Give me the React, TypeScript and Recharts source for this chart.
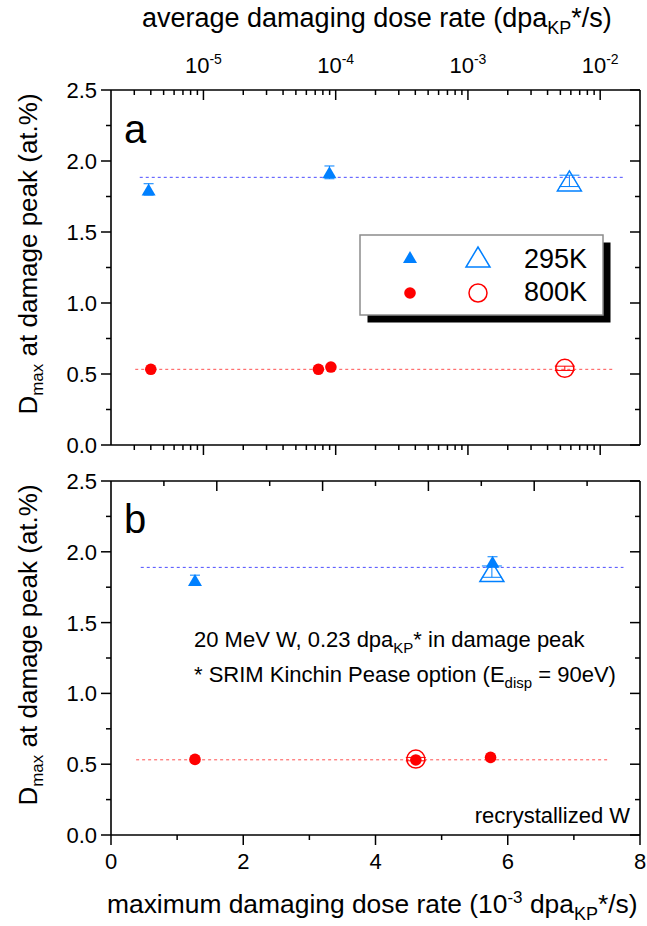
import React from 'react';
import { ScatterChart, Scatter, XAxis, YAxis, ReferenceLine, ErrorBar } from 'recharts';

const FONT = '"Liberation Sans", Arial, Helvetica, sans-serif';
const BLUE = '#0080ff';
const RED = '#ff0000';
const DASH_BLUE = '#4d4dff';
const DASH_RED = '#ff5050';

// ---------- Panel a : average damaging dose rate (dpa_KP*/s), log axis ----------
const a295Filled = [
  { x: 3.85e-6, y: 1.80, err: 0.04 },
  { x: 8.97e-5, y: 1.92, err: 0.045 },
];
const a295Open = [{ x: 5.85e-3, y: 1.86, err: 0.04 }];
const a800Filled = [
  { x: 4.0e-6, y: 0.533 },
  { x: 7.4e-5, y: 0.533 },
  { x: 9.2e-5, y: 0.549 },
];
const a800Open = [{ x: 5.4e-3, y: 0.54, err: 0.015 }];
const aMeanLines = [
  { y: 1.885, x1: 3.3e-6, x2: 1.55e-2, color: DASH_BLUE },
  { y: 0.533, x1: 3.05e-6, x2: 1.26e-2, color: DASH_RED },
];

// ---------- Panel b : maximum damaging dose rate (1e-3 dpa_KP*/s), linear axis ----------
const b295Filled = [
  { x: 1.27, y: 1.80, err: 0.035 },
  { x: 5.77, y: 1.93, err: 0.035 },
];
const b295Open = [{ x: 5.76, y: 1.86, err: 0.04 }];
const b800Filled = [
  { x: 1.27, y: 0.534 },
  { x: 4.61, y: 0.53 },
  { x: 5.74, y: 0.548 },
];
const b800Open = [{ x: 4.61, y: 0.536, err: 0.012 }];
const bMeanLines = [
  { y: 1.89, x1: 0.45, x2: 7.75, color: DASH_BLUE },
  { y: 0.531, x1: 0.38, x2: 7.54, color: DASH_RED },
];

// ---------- ticks ----------
const logDomain = [2e-6, 2e-2];
const logTicks = [
  3e-6, 4e-6, 5e-6, 6e-6, 7e-6, 8e-6, 9e-6,
  1e-5, 2e-5, 3e-5, 4e-5, 5e-5, 6e-5, 7e-5, 8e-5, 9e-5,
  1e-4, 2e-4, 3e-4, 4e-4, 5e-4, 6e-4, 7e-4, 8e-4, 9e-4,
  1e-3, 2e-3, 3e-3, 4e-3, 5e-3, 6e-3, 7e-3, 8e-3, 9e-3,
  1e-2,
];
const yTicks = [0, 0.25, 0.5, 0.75, 1.0, 1.25, 1.5, 1.75, 2.0, 2.25, 2.5];
const xTicksB = [0, 1, 2, 3, 4, 5, 6, 7, 8];
const xTopTicksB = [0.8, 1.6, 2.4, 3.2, 4.0, 4.8, 5.6, 6.4, 7.2];

const AX = { stroke: '#000', strokeWidth: 1.6 };
const TK = 10; // tickSize given to recharts

const isLogMajor = (v: number) => {
  const lg = Math.log10(v);
  return Math.abs(lg - Math.round(lg)) < 1e-6;
};

const TopLogTick = (p: any) => {
  const { x, y, payload } = p;
  const v = payload.value;
  const major = isLogMajor(v);
  const ay = y + TK;
  return (
    <g>
      <line x1={x} x2={x} y1={ay} y2={ay + (major ? 10 : 5)} stroke="#000" strokeWidth={1.5} />
      {major && (
        <text x={x} y={ay - 17} textAnchor="middle" fontSize={22} fontFamily={FONT} fill="#000">
          10<tspan dy={-9} fontSize={14}>{String(Math.round(Math.log10(v)))}</tspan>
        </text>
      )}
    </g>
  );
};

const BottomLogTick = (p: any) => {
  const { x, y, payload } = p;
  const major = isLogMajor(payload.value);
  const ay = y - TK;
  return <line x1={x} x2={x} y1={ay} y2={ay + (major ? 10 : 5)} stroke="#000" strokeWidth={1.5} />;
};

const LeftTick = (p: any) => {
  const { x, y, payload } = p;
  const v = payload.value;
  const major = Math.abs(v * 2 - Math.round(v * 2)) < 1e-6;
  const ax = x + TK;
  return (
    <g>
      <line x1={ax - (major ? 10 : 5)} x2={ax} y1={y} y2={y} stroke="#000" strokeWidth={1.5} />
      {major && (
        <text x={ax - 14} y={y + 8} textAnchor="end" fontSize={22} fontFamily={FONT} fill="#000">
          {v.toFixed(1)}
        </text>
      )}
    </g>
  );
};

const RightTick = (p: any) => {
  const { x, y, payload } = p;
  const v = payload.value;
  const major = Math.abs(v * 2 - Math.round(v * 2)) < 1e-6;
  const ax = x - TK;
  return <line x1={ax - (major ? 10 : 5)} x2={ax} y1={y} y2={y} stroke="#000" strokeWidth={1.5} />;
};

const BottomLinTick = (p: any) => {
  const { x, y, payload } = p;
  const v = payload.value;
  const major = v % 2 === 0;
  const ay = y - TK;
  return (
    <g>
      <line x1={x} x2={x} y1={ay} y2={ay + (major ? 10 : 5)} stroke="#000" strokeWidth={1.5} />
      {major && (
        <text x={x} y={ay + 34} textAnchor="middle" fontSize={22} fontFamily={FONT} fill="#000">
          {String(v)}
        </text>
      )}
    </g>
  );
};

const TopLinTick = (p: any) => {
  const { x, y, payload } = p;
  const major = Math.round(payload.value / 0.8) % 2 === 0;
  const ay = y + TK;
  return <line x1={x} x2={x} y1={ay} y2={ay + (major ? 10 : 5)} stroke="#000" strokeWidth={1.5} />;
};

// ---------- markers ----------
const FilledTriangle = (p: any) => {
  const { cx, cy } = p;
  const w = 14, h = 12;
  return <path d={`M${cx - w / 2},${cy + h / 2}L${cx + w / 2},${cy + h / 2}L${cx},${cy - h / 2}Z`} fill={BLUE} />;
};
const OpenTriangle = (p: any) => {
  const { cx, cy } = p;
  const w = 24, h = 20;
  return (
    <path
      d={`M${cx - w / 2},${cy + h / 2}L${cx + w / 2},${cy + h / 2}L${cx},${cy - h / 2}Z`}
      fill="none"
      stroke={BLUE}
      strokeWidth={1.5}
    />
  );
};
const FilledCircle = (p: any) => <circle cx={p.cx} cy={p.cy} r={5.8} fill={RED} />;
const OpenCircle = (p: any) => <circle cx={p.cx} cy={p.cy} r={9} fill="none" stroke={RED} strokeWidth={1.5} />;

const PanelA = () => (
  <ScatterChart width={647} height={470} margin={{ top: 0, right: 0, bottom: 0, left: 0 }}>
    <XAxis
      xAxisId="top"
      orientation="top"
      type="number"
      dataKey="x"
      scale="log"
      domain={logDomain}
      allowDataOverflow
      ticks={logTicks}
      interval={0}
      height={90}
      tickSize={TK}
      tickMargin={0}
      tickLine={false}
      axisLine={AX}
      tick={<TopLogTick />}
    />
    <XAxis
      xAxisId="bot"
      orientation="bottom"
      type="number"
      dataKey="x"
      scale="log"
      domain={logDomain}
      allowDataOverflow
      ticks={logTicks}
      interval={0}
      height={25}
      tickSize={TK}
      tickMargin={0}
      tickLine={false}
      axisLine={AX}
      tick={<BottomLogTick />}
    />
    <YAxis
      yAxisId="l"
      orientation="left"
      type="number"
      dataKey="y"
      domain={[0, 2.5]}
      allowDataOverflow
      ticks={yTicks}
      interval={0}
      width={111}
      tickSize={TK}
      tickMargin={0}
      tickLine={false}
      axisLine={AX}
      tick={<LeftTick />}
    />
    <YAxis
      yAxisId="r"
      orientation="right"
      type="number"
      dataKey="y"
      domain={[0, 2.5]}
      allowDataOverflow
      ticks={yTicks}
      interval={0}
      width={7}
      tickSize={TK}
      tickMargin={0}
      tickLine={false}
      axisLine={AX}
      tick={<RightTick />}
    />
    {aMeanLines.map((l, i) => (
      <ReferenceLine
        key={i}
        xAxisId="top"
        yAxisId="l"
        segment={[{ x: l.x1, y: l.y }, { x: l.x2, y: l.y }]}
        stroke={l.color}
        strokeWidth={1}
        strokeDasharray="3 3"
        ifOverflow="visible"
      />
    ))}
    <Scatter data={a295Filled} xAxisId="top" yAxisId="l" shape={FilledTriangle} isAnimationActive={false}>
      <ErrorBar dataKey="err" direction="y" width={5} stroke={BLUE} strokeWidth={1} />
    </Scatter>
    <Scatter data={a295Open} xAxisId="top" yAxisId="l" shape={OpenTriangle} isAnimationActive={false}>
      <ErrorBar dataKey="err" direction="y" width={10} stroke={BLUE} strokeWidth={1} />
    </Scatter>
    <Scatter data={a800Filled} xAxisId="top" yAxisId="l" shape={FilledCircle} isAnimationActive={false} />
    <Scatter data={a800Open} xAxisId="top" yAxisId="l" shape={OpenCircle} isAnimationActive={false}>
      <ErrorBar dataKey="err" direction="y" width={10} stroke={RED} strokeWidth={1} />
    </Scatter>
  </ScatterChart>
);

const PanelB = () => (
  <ScatterChart width={647} height={471} margin={{ top: 0, right: 0, bottom: 0, left: 0 }}>
    <XAxis
      xAxisId="top"
      orientation="top"
      type="number"
      dataKey="x"
      domain={[0, 8]}
      allowDataOverflow
      ticks={xTopTicksB}
      interval={0}
      height={26}
      tickSize={TK}
      tickMargin={0}
      tickLine={false}
      axisLine={AX}
      tick={<TopLinTick />}
    />
    <XAxis
      xAxisId="bot"
      orientation="bottom"
      type="number"
      dataKey="x"
      domain={[0, 8]}
      allowDataOverflow
      ticks={xTicksB}
      interval={0}
      height={91}
      tickSize={TK}
      tickMargin={0}
      tickLine={false}
      axisLine={AX}
      tick={<BottomLinTick />}
    />
    <YAxis
      yAxisId="l"
      orientation="left"
      type="number"
      dataKey="y"
      domain={[0, 2.5]}
      allowDataOverflow
      ticks={yTicks}
      interval={0}
      width={111}
      tickSize={TK}
      tickMargin={0}
      tickLine={false}
      axisLine={AX}
      tick={<LeftTick />}
    />
    <YAxis
      yAxisId="r"
      orientation="right"
      type="number"
      dataKey="y"
      domain={[0, 2.5]}
      allowDataOverflow
      ticks={yTicks}
      interval={0}
      width={7}
      tickSize={TK}
      tickMargin={0}
      tickLine={false}
      axisLine={AX}
      tick={<RightTick />}
    />
    {bMeanLines.map((l, i) => (
      <ReferenceLine
        key={i}
        xAxisId="bot"
        yAxisId="l"
        segment={[{ x: l.x1, y: l.y }, { x: l.x2, y: l.y }]}
        stroke={l.color}
        strokeWidth={1}
        strokeDasharray="3 3"
        ifOverflow="visible"
      />
    ))}
    <Scatter data={b295Filled} xAxisId="bot" yAxisId="l" shape={FilledTriangle} isAnimationActive={false}>
      <ErrorBar dataKey="err" direction="y" width={5} stroke={BLUE} strokeWidth={1} />
    </Scatter>
    <Scatter data={b295Open} xAxisId="bot" yAxisId="l" shape={OpenTriangle} isAnimationActive={false}>
      <ErrorBar dataKey="err" direction="y" width={10} stroke={BLUE} strokeWidth={1} />
    </Scatter>
    <Scatter data={b800Filled} xAxisId="bot" yAxisId="l" shape={FilledCircle} isAnimationActive={false} />
    <Scatter data={b800Open} xAxisId="bot" yAxisId="l" shape={OpenCircle} isAnimationActive={false}>
      <ErrorBar dataKey="err" direction="y" width={10} stroke={RED} strokeWidth={1} />
    </Scatter>
  </ScatterChart>
);

const YTitle = ({ cy }: { cy: number }) => (
  <text transform={`translate(37,${cy}) rotate(-90)`} textAnchor="middle" fontSize={26} fontFamily={FONT} fill="#000">
    D<tspan dy={6} fontSize={17}>max</tspan>
    <tspan dy={-6}> at damage peak (at.%)</tspan>
  </text>
);

const Overlay = () => (
  <svg width={647} height={926} style={{ position: 'absolute', left: 0, top: 0, pointerEvents: 'none' }}>
    {/* top axis title */}
    <text x={142} y={27} fontSize={27} fontFamily={FONT} fill="#000">
      average damaging dose rate (dpa<tspan dy={7} fontSize={18}>KP</tspan>
      <tspan dy={-7}>*/s)</tspan>
    </text>
    {/* bottom axis title */}
    <text x={107} y={913} fontSize={26.4} fontFamily={FONT} fill="#000">
      maximum damaging dose rate (10<tspan dy={-10} fontSize={17}>-3</tspan>
      <tspan dy={10}> dpa</tspan>
      <tspan dy={7} fontSize={18}>KP</tspan>
      <tspan dy={-7}>*/s)</tspan>
    </text>
    <YTitle cy={254} />
    <YTitle cy={645} />
    {/* panel labels */}
    <text x={124} y={143} fontSize={40} fontFamily={FONT} fill="#000">a</text>
    <text x={124} y={533} fontSize={40} fontFamily={FONT} fill="#000">b</text>
    {/* legend */}
    <rect x={367.5} y={242.5} width={243} height={80} fill="#000" />
    <rect x={360} y={235} width={243} height={80} fill="#fff" stroke="#8c8c8c" strokeWidth={1.5} />
    <FilledTriangle cx={410} cy={257} />
    <OpenTriangle cx={478} cy={257} />
    <text x={524} y={268} fontSize={27} fontFamily={FONT} fill="#000">295K</text>
    <FilledCircle cx={410} cy={293} />
    <OpenCircle cx={478} cy={293} />
    <text x={524} y={301} fontSize={27} fontFamily={FONT} fill="#000">800K</text>
    {/* annotations panel b */}
    <text x={194} y={647} fontSize={22} fontFamily={FONT} fill="#000">
      20 MeV W, 0.23 dpa<tspan dy={6} fontSize={15}>KP</tspan>
      <tspan dy={-6}>* in damage peak</tspan>
    </text>
    <text x={194} y={682} fontSize={22} fontFamily={FONT} fill="#000">
      * SRIM Kinchin Pease option (E<tspan dy={6} fontSize={15}>disp</tspan>
      <tspan dy={-6}> = 90eV)</tspan>
    </text>
    <text x={630} y={823} textAnchor="end" fontSize={22} fontFamily={FONT} fill="#000">
      recrystallized W
    </text>
  </svg>
);

export default function App() {
  return (
    <div style={{ position: 'absolute', left: 0, top: 0, width: 647, height: 926, background: '#fff' }}>
      <div style={{ position: 'absolute', left: 0, top: 0 }}>
        <PanelA />
      </div>
      <div style={{ position: 'absolute', left: 0, top: 455 }}>
        <PanelB />
      </div>
      <Overlay />
    </div>
  );
}
